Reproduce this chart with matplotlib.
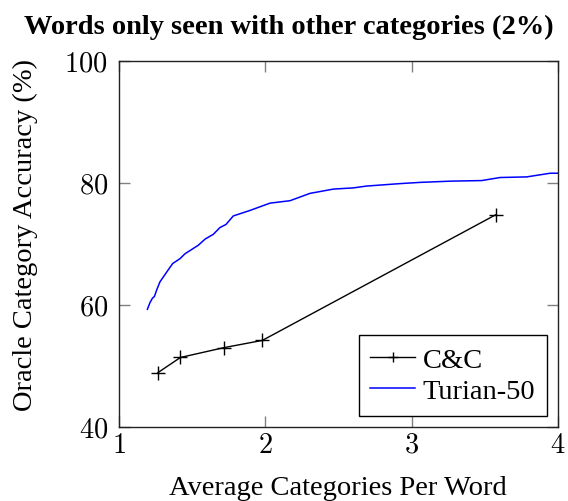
import matplotlib.pyplot as plt
from matplotlib.ticker import FuncFormatter

plt.rcParams['font.family'] = ['Liberation Serif', 'DejaVu Serif']
plt.rcParams['mathtext.fontset'] = 'cm'

# C&C data points
cc_x = [1.265, 1.42, 1.715, 1.98, 3.575]
cc_y = [48.9, 51.4, 53.0, 54.2, 74.8]

# Turian-50 curve
tur_x = [1.194, 1.212, 1.228, 1.242, 1.258, 1.28, 1.326, 1.367, 1.417, 1.451,
         1.542, 1.588, 1.645, 1.69, 1.731, 1.781, 1.895, 2.032, 2.169, 2.305,
         2.465, 2.602, 2.693, 2.921, 3.057, 3.262, 3.479, 3.604, 3.786, 3.946, 4.0]
tur_y = [59.3, 60.4, 61.1, 61.4, 62.5, 63.8, 65.4, 66.8, 67.6, 68.4,
         69.8, 70.8, 71.6, 72.7, 73.2, 74.6, 75.5, 76.7, 77.1, 78.3,
         79.0, 79.2, 79.5, 79.9, 80.1, 80.3, 80.4, 80.9, 81.0, 81.6, 81.6]

xticks = [1, 2, 3, 4]
yticks = [40, 60, 80, 100]

fig = plt.figure(figsize=(5.68, 5.02), dpi=100)
ax = fig.add_axes([0.2095, 0.1474, 0.7729, 0.7291])

ax.plot(cc_x, cc_y, color='black', linewidth=1.0, marker='+', markersize=10,
        markeredgewidth=1.0, label='C&C')
ax.plot(tur_x, tur_y, color='blue', linewidth=1.1, label='Turian-50')

ax.set_xlim(1, 4)
ax.set_ylim(40, 100)
ax.set_xticks(xticks)
ax.set_yticks(yticks)
fmt = FuncFormatter(lambda v, p: '$%d$' % v)
ax.xaxis.set_major_formatter(fmt)
ax.yaxis.set_major_formatter(fmt)
ax.tick_params(direction='in', length=8, width=1, color='gray',
               labelsize=20.5, top=True, right=True)
ax.tick_params(axis='x', pad=4)
ax.tick_params(axis='y', pad=8)
for s in ax.spines.values():
    s.set_linewidth(1.0)
    s.set_color('#222222')

fig.text(0.595, 0.027, 'Average Categories Per Word', fontsize=20.5,
         ha='center', va='center')
fig.text(0.045, 0.532, 'Oracle Category Accuracy (%)', fontsize=20.5,
         rotation=90, ha='center', va='center')
fig.text(0.509, 0.945, 'Words only seen with other categories (2%)',
         fontsize=20.5, fontweight='bold', ha='center', va='center')

leg = ax.legend(loc='lower right', fontsize=20.5, fancybox=False, framealpha=1,
                edgecolor='black', borderaxespad=0.4, handlelength=1.6,
                handletextpad=0.25, borderpad=0.4, labelspacing=0.2)
leg.get_frame().set_linewidth(1.0)
leg.legend_handles[0].set_markersize(7)

fig.savefig('out.png', dpi=100)
